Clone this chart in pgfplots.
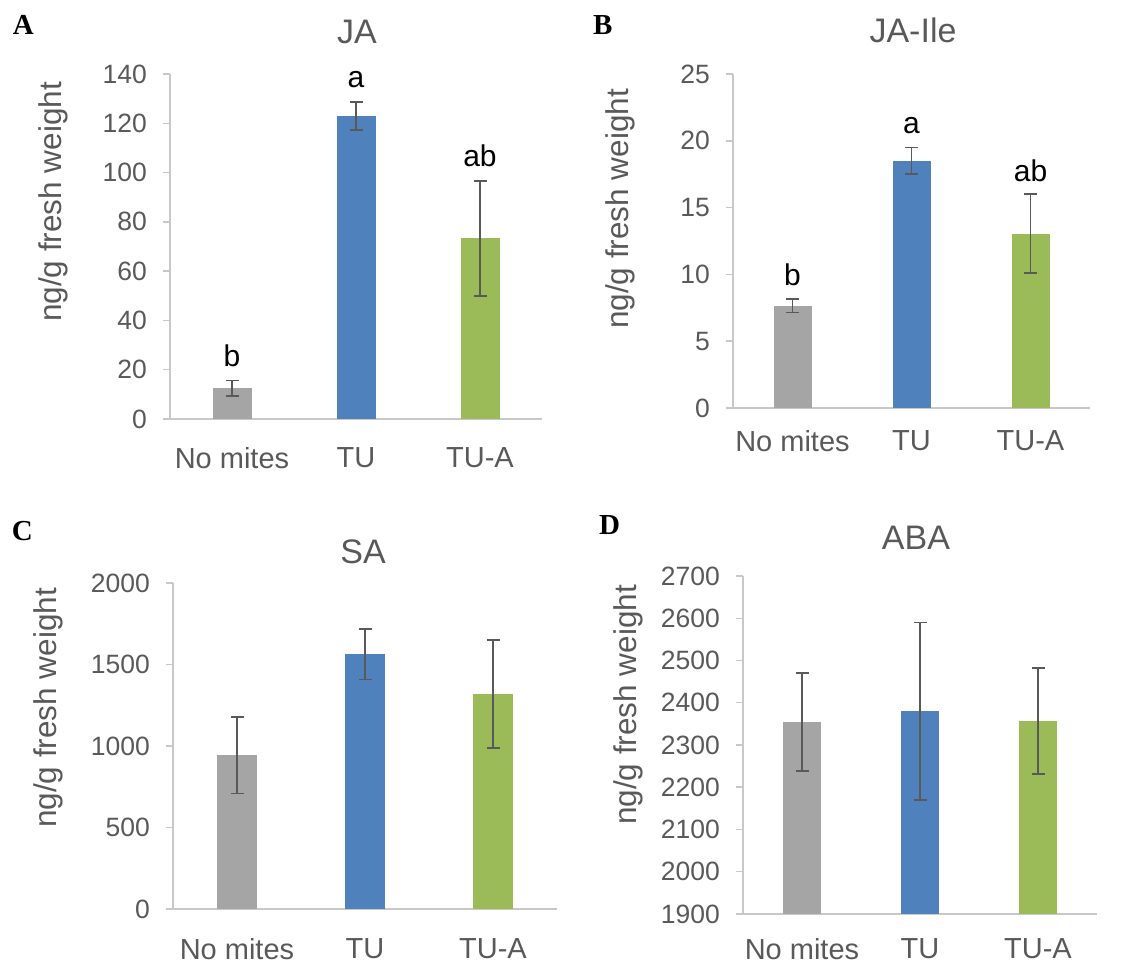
\documentclass[border=0pt]{standalone}
\usepackage{fontspec}
\setmainfont{Liberation Sans}
\newfontfamily\serifb{Liberation Serif}
\usepackage{pgfplots}
\pgfplotsset{compat=1.18}
\definecolor{bgray}{HTML}{A5A5A5}
\definecolor{bblue}{HTML}{4F81BD}
\definecolor{bgreen}{HTML}{9BBB59}
\definecolor{txt}{HTML}{595959}
\definecolor{axc}{HTML}{C8C8C8}
\definecolor{errc}{HTML}{595959}
\pgfplotsset{
  panel/.style={
    scale only axis,
    axis x line=bottom, axis y line=left,
    axis line style={-, draw=axc, line width=1.5pt},
    xmin=-0.5, xmax=2.5,
    xtick={0,1,2}, xticklabels={No mites, TU, TU-A},
    x tick style={draw=none},
    y tick style={draw=axc, line width=1.5pt},
    tick align=outside,
    major tick length=7pt,
    yticklabel style={font=\fontsize{26.5}{26.5}\selectfont, text=txt, anchor=east, inner sep=0pt, xshift=-16pt},
    xticklabel style={font=\fontsize{29}{29}\selectfont, text=txt, anchor=north, inner sep=0pt},
    /pgf/number format/assume math mode=true,
    /pgf/number format/1000 sep={},
    ybar, bar shift=0pt,
    error bars/y dir=both, error bars/y explicit,
    error bars/error bar style={line width=1.6pt, draw=errc},
    error bars/error mark options={rotate=90, mark size=6.5pt, line width=1.6pt, draw=errc},
  },
}
\tikzset{sig/.style={font=\fontsize{30}{30}\selectfont, anchor=base, text=black},
  ttl/.style={anchor=base, font=\fontsize{34}{34}\selectfont, text=txt},
  plab/.style={anchor=base west, inner sep=0pt, font=\serifb\bfseries\fontsize{29}{29}\selectfont},
  ylab/.style={rotate=90, inner sep=0pt, font=\fontsize{31.5}{31.5}\selectfont, text=txt}}
\begin{document}
\begin{tikzpicture}
\useasboundingbox (0,0) rectangle (1127pt,965pt);
% ---------------- A: JA
\begin{axis}[panel, at={(170pt,546pt)}, anchor=south west,
  width=372pt, height=345pt, ymin=0, ymax=140, ytick={0,20,...,140},
  bar width=39pt, clip=false, xticklabel style={yshift=-21pt}]
\addplot[fill=bgray, draw=none] coordinates {(0,12.5) +- (0,3.1)};
\addplot[fill=bblue, draw=none] coordinates {(1,123.0) +- (0,5.7)};
\addplot[fill=bgreen, draw=none] coordinates {(2,73.3) +- (0,23.3)};
\node[sig] at (axis cs:0,21.1) {b};
\node[sig] at (axis cs:1,134.6) {a};
\node[sig] at (axis cs:2,102.4) {ab};
\end{axis}
% ---------------- B: JA-Ile
\begin{axis}[panel, at={(733pt,557pt)}, anchor=south west,
  width=357pt, height=334pt, ymin=0, ymax=25, ytick={0,5,...,25},
  bar width=38pt, clip=false, xticklabel style={yshift=-15pt}]
\addplot[fill=bgray, draw=none] coordinates {(0,7.65) +- (0,0.5)};
\addplot[fill=bblue, draw=none] coordinates {(1,18.5) +- (0,1.0)};
\addplot[fill=bgreen, draw=none] coordinates {(2,13.05) +- (0,2.95)};
\node[sig] at (axis cs:0,9.2) {b};
\node[sig] at (axis cs:1,20.56) {a};
\node[sig] at (axis cs:2,16.94) {ab};
\end{axis}
% ---------------- C: SA
\begin{axis}[panel, at={(173pt,56pt)}, anchor=south west,
  width=384pt, height=326pt, ymin=0, ymax=2000, ytick={0,500,...,2000},
  bar width=40pt, xticklabel style={yshift=-22pt}]
\addplot[fill=bgray, draw=none] coordinates {(0,943) +- (0,234)};
\addplot[fill=bblue, draw=none] coordinates {(1,1563) +- (0,155)};
\addplot[fill=bgreen, draw=none] coordinates {(2,1319) +- (0,331)};
\end{axis}
% ---------------- D: ABA
\begin{axis}[panel, at={(743pt,51pt)}, anchor=south west,
  width=354pt, height=338pt, ymin=1900, ymax=2700, ytick={1900,2000,...,2700},
  bar width=38pt, xticklabel style={yshift=-17pt}]
\addplot[fill=bgray, draw=none] coordinates {(0,2354) +- (0,116)};
\addplot[fill=bblue, draw=none] coordinates {(1,2380) +- (0,210)};
\addplot[fill=bgreen, draw=none] coordinates {(2,2357) +- (0,125)};
\end{axis}
% titles
\node[ttl] at (357pt,921.7pt) {JA};
\node[ttl] at (913pt,922.3pt) {JA-Ile};
\node[ttl] at (363pt,401.7pt) {SA};
\node[ttl] at (916pt,415.7pt) {ABA};
% panel letters
\node[plab] at (12.7pt,930pt) {A};
\node[plab] at (593pt,930pt) {B};
\node[plab] at (11.7pt,424.3pt) {C};
\node[plab] at (599pt,430pt) {D};
% y labels
\node[ylab] at (53pt,763pt) {ng/g fresh weight};
\node[ylab] at (620pt,756pt) {ng/g fresh weight};
\node[ylab] at (48pt,257pt) {ng/g fresh weight};
\node[ylab] at (628pt,260pt) {ng/g fresh weight};
\end{tikzpicture}
\end{document}
